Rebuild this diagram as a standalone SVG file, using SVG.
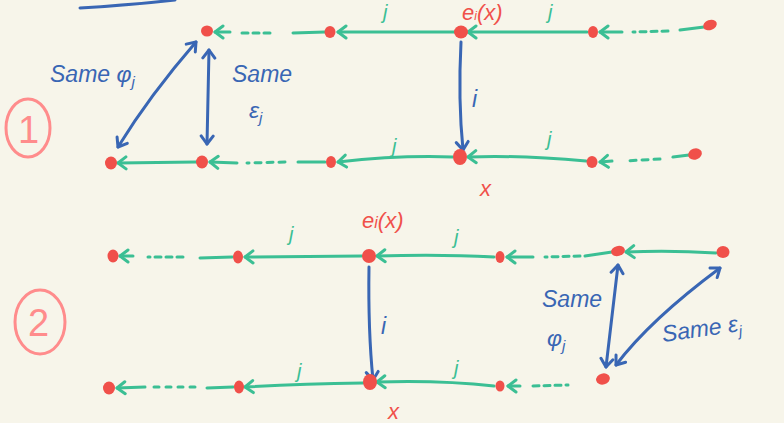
<svg xmlns="http://www.w3.org/2000/svg" width="784" height="423" viewBox="0 0 784 423">
<style>
.g{stroke:#3bbf94;stroke-width:3;fill:none;stroke-linecap:round;stroke-linejoin:round}
.ga{marker-end:url(#gh)}
.b{stroke:#3966b4;stroke-width:3;fill:none;stroke-linecap:round}
.be{marker-end:url(#bh)}
.bb{marker-start:url(#bh);marker-end:url(#bh)}
.n{fill:#f0504a}
.tg{fill:#3bbf94;font-family:"Liberation Sans",sans-serif;font-size:20px;font-style:italic}
.tb{fill:#3966b4;font-family:"Liberation Sans",sans-serif;font-size:23px;font-style:italic}
.tr{fill:#f0504a;font-family:"Liberation Sans",sans-serif;font-size:22px;font-style:italic}
.tp{fill:#ff8c8c;font-family:"Liberation Sans",sans-serif;font-size:38px}
.c{stroke:#ff8c8c;stroke-width:3;fill:none}
</style>
<defs>
<marker id="gh" viewBox="-10 -8 12 16" markerWidth="12" markerHeight="16" refX="0" refY="0" orient="auto-start-reverse" markerUnits="userSpaceOnUse">
<path d="M -8 -6 L 0 0 L -8 6" fill="none" stroke="#3bbf94" stroke-width="3" stroke-linecap="round" stroke-linejoin="round"/>
</marker>
<marker id="bh" viewBox="-10 -8 12 16" markerWidth="12" markerHeight="16" refX="0" refY="0" orient="auto-start-reverse" markerUnits="userSpaceOnUse">
<path d="M -8 -6 L 0 0 L -8 6" fill="none" stroke="#3966b4" stroke-width="3" stroke-linecap="round" stroke-linejoin="round"/>
</marker>
</defs>
<rect width="784" height="423" fill="#f7f5ea"/>
<path class="b" d="M 80 8 Q 130 5 175 0"/>

<g id="connectors">
<!-- section 1 top -->
<path class="g" d="M 242 33 L 275 33" stroke-dasharray="6 5"/>
<path class="g" d="M 325 32 L 293 33"/>
<path class="g ga" d="M 230 32 L 215 32"/>
<path class="g ga" d="M 455 32 L 338 32"/>
<path class="g ga" d="M 587 32 L 468 32"/>
<path class="g" d="M 704 27 L 680 30"/>
<path class="g" d="M 668 31 L 633 32" stroke-dasharray="6 5"/>
<path class="g ga" d="M 622 32 L 600 32"/>
<!-- section 1 bottom -->
<path class="g ga" d="M 196 162 L 118 163"/>
<path class="g" d="M 325 162 L 298 162"/>
<path class="g" d="M 285 162 L 247 163" stroke-dasharray="6 6"/>
<path class="g ga" d="M 237 163 L 210 162"/>
<path class="g ga" d="M 453 157 Q 400 155 338 162"/>
<path class="g ga" d="M 586 161 Q 520 155 468 157"/>
<path class="g" d="M 689 155 L 673 157"/>
<path class="g" d="M 660 159 L 625 161" stroke-dasharray="6 6"/>
<path class="g ga" d="M 612 161 L 600 162"/>
<!-- section 1 blue -->
<path class="b be" d="M 461 42 Q 458 100 463 150"/>
<path class="b bb" d="M 196 42 Q 150 95 118 147"/>
<path class="b bb" d="M 209 50 L 207 144"/>
<!-- section 2 top -->
<path class="g" d="M 232 257 L 200 258"/>
<path class="g" d="M 183 257 L 148 257" stroke-dasharray="6 5"/>
<path class="g ga" d="M 133 256 L 120 256"/>
<path class="g ga" d="M 362 256 L 245 257"/>
<path class="g ga" d="M 494 257 Q 440 254 377 256"/>
<path class="g" d="M 612 252 L 585 256"/>
<path class="g" d="M 580 256 L 545 257" stroke-dasharray="6 5"/>
<path class="g ga" d="M 533 257 L 507 257"/>
<path class="g ga" d="M 716 253 Q 670 250 626 252"/>
<!-- section 2 bottom -->
<path class="g" d="M 233 387 L 207 388"/>
<path class="g" d="M 195 387 L 150 387" stroke-dasharray="5 7"/>
<path class="g ga" d="M 145 387 L 117 388"/>
<path class="g ga" d="M 363 383 Q 300 384 245 387"/>
<path class="g ga" d="M 494 386 Q 440 380 377 382"/>
<path class="g" d="M 533 386 L 568 385" stroke-dasharray="6 5"/>
<path class="g ga" d="M 520 386 L 508 386"/>
<!-- section 2 blue -->
<path class="b be" d="M 369 267 Q 368 330 373 380"/>
<path class="b bb" d="M 618 265 L 606 367"/>
<path class="b bb" d="M 720 268 Q 650 320 616 365"/>
</g>

<g id="s1-top-nodes">
<ellipse id="n1a" class="n" cx="207" cy="31" rx="6" ry="5.5"/>
<ellipse id="n1b" class="n" cx="330" cy="32" rx="5.5" ry="6"/>
<ellipse id="n1c" class="n" cx="461" cy="32" rx="7" ry="6.5"/>
<ellipse id="n1d" class="n" cx="593" cy="32" rx="5" ry="6"/>
<ellipse id="n1e" class="n" cx="710" cy="25" rx="7" ry="5" transform="rotate(-20 710 25)"/>
</g>
<g id="s1-bottom-nodes">
<ellipse id="n1f" class="n" cx="111" cy="163" rx="6" ry="6.5"/>
<ellipse id="n1g" class="n" cx="202" cy="162" rx="6" ry="6.5"/>
<ellipse id="n1h" class="n" cx="331" cy="162" rx="5" ry="6"/>
<ellipse id="n1x" class="n" cx="460" cy="157" rx="7" ry="8"/>
<ellipse id="n1i" class="n" cx="592" cy="162" rx="5.5" ry="6"/>
<ellipse id="n1j" class="n" cx="695" cy="154" rx="7" ry="5.5" transform="rotate(-20 695 154)"/>
</g>
<g id="s2-top-nodes">
<ellipse id="n2a" class="n" cx="113" cy="256" rx="5.5" ry="6.5"/>
<ellipse id="n2b" class="n" cx="238" cy="257" rx="5" ry="6.5"/>
<ellipse id="n2c" class="n" cx="369" cy="256" rx="7" ry="7"/>
<ellipse id="n2d" class="n" cx="500" cy="257" rx="4.5" ry="6"/>
<ellipse id="n2e" class="n" cx="618" cy="251" rx="7" ry="5" transform="rotate(-15 618 251)"/>
<ellipse id="n2f" class="n" cx="723" cy="252" rx="6.5" ry="6"/>
</g>
<g id="s2-bottom-nodes">
<ellipse id="n2g" class="n" cx="109" cy="388" rx="6" ry="6.5"/>
<ellipse id="n2h" class="n" cx="239" cy="387" rx="5" ry="6.5"/>
<ellipse id="n2x" class="n" cx="370" cy="382" rx="7" ry="8"/>
<ellipse id="n2i" class="n" cx="500" cy="386" rx="4.5" ry="5.5"/>
<ellipse id="n2j" class="n" cx="603" cy="379" rx="7" ry="5.5" transform="rotate(-15 603 379)"/>
</g>

<g id="labels">
<text class="tr" x="462" y="20" font-size="17">e<tspan font-size="12">i</tspan>(x)</text>
<text class="tg" x="383" y="19">j</text>
<text class="tg" x="548" y="19">j</text>
<text class="tg" x="392" y="153">j</text>
<text class="tg" x="547" y="146">j</text>
<text class="tb" x="472" y="107">i</text>
<text class="tr" x="480" y="196" font-size="26">x</text>
<text class="tb" x="50" y="82">Same φ<tspan font-size="15" dy="5">j</tspan></text>
<text class="tb" x="232" y="82">Same</text>
<text class="tb" x="249" y="118">ε<tspan font-size="15" dy="5">j</tspan></text>

<text class="tr" x="362" y="228" font-size="24">e<tspan font-size="16">i</tspan>(x)</text>
<text class="tg" x="289" y="241">j</text>
<text class="tg" x="454" y="244">j</text>
<text class="tg" x="297" y="378">j</text>
<text class="tg" x="454" y="375">j</text>
<text class="tb" x="381" y="334">i</text>
<text class="tr" x="388" y="419" font-size="26">x</text>
<text class="tb" x="542" y="307">Same</text>
<text class="tb" x="547" y="346">φ<tspan font-size="15" dy="5">j</tspan></text>
<text class="tb" x="663" y="342" transform="rotate(-8 663 342)">Same ε<tspan font-size="15" dy="5">j</tspan></text>
</g>

<g id="step1">
<ellipse class="c" cx="28" cy="128" rx="22" ry="29"/>
<text class="tp" x="18" y="143">1</text>
</g>
<g id="step2">
<ellipse class="c" cx="40" cy="322" rx="25" ry="32"/>
<text class="tp" x="28" y="336">2</text>
</g>
</svg>
